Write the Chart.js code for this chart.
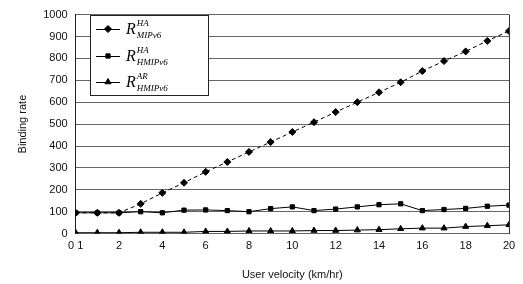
<!DOCTYPE html>
<html>
<head>
<meta charset="utf-8">
<script src="https://cdn.jsdelivr.net/npm/chart.js@4/dist/chart.umd.min.js"></script>
<style>
    html, body { margin: 0; padding: 0; background: #fff; }
    #wrap { width: 523px; height: 284px; }
</style>
</head>
<body>
<div id="wrap"><canvas id="c"></canvas></div>
<script>
// velocities (km/hr)
const velocities = [0, 1, 2, 3, 4, 5, 6, 7, 8, 9, 10, 11, 12, 13, 14, 15, 16, 17, 18, 19, 20];

// binding rates
const rateHaMipv6 = [95, 95, 95, 136, 186, 232, 282, 327, 373, 418, 464, 509, 555, 600, 645, 691, 742, 788, 832, 880, 925];
const rateHaHmipv6 = [95, 95, 95, 100, 95, 107, 108, 105, 100, 114, 122, 105, 112, 122, 132, 136, 105, 110, 115, 125, 130];
const rateArHmipv6 = [4, 4, 4, 6, 6, 6, 10, 10, 12, 12, 12, 14, 14, 16, 18, 22, 25, 25, 32, 36, 40];

const xTicks = [0, 2, 4, 6, 8, 10, 12, 14, 16, 18, 20];

// legend labels: base letter, superscript, subscript
const legendLabels = [
    ["R", "HA", "MIPv6"],
    ["R", "HA", "HMIPv6"],
    ["R", "AR", "HMIPv6"]
];

function pts(arr) {
    return velocities.map((v, i) => ({ x: v, y: arr[i] }));
}

// custom legend box drawn over the plot
const mathLegend = {
    id: "mathLegend",
    afterDraw(chart) {
        const ctx = chart.ctx;
        const bx = 90, by = 15, bw = 118, bh = 80;
        ctx.save();
        ctx.fillStyle = "#fff";
        ctx.fillRect(bx, by, bw, bh);
        ctx.strokeStyle = "#222";
        ctx.lineWidth = 1;
        ctx.strokeRect(bx + 0.5, by + 0.5, bw, bh);

        const rows = [29, 56, 82];
        chart.data.datasets.forEach((ds, i) => {
            const y = rows[i];
            ctx.strokeStyle = "#000";
            ctx.fillStyle = "#000";
            ctx.lineWidth = 1;
            ctx.setLineDash([]);
            ctx.beginPath();
            ctx.moveTo(96, y + 0.5);
            ctx.lineTo(120, y + 0.5);
            ctx.stroke();
            Chart.helpers.drawPoint(ctx, {
                pointStyle: ds.pointStyle,
                radius: ds.pointRadius,
                borderWidth: 1
            }, 108, y);

            const [base, sup, sub] = legendLabels[i];
            ctx.fillStyle = "#000";
            ctx.textBaseline = "alphabetic";
            ctx.font = "italic 16px 'Liberation Serif', serif";
            ctx.fillText(base, 126, y + 5);
            const w = ctx.measureText(base).width;
            ctx.font = "italic 9px 'Liberation Serif', serif";
            ctx.fillText(sup, 126 + w + 1, y - 3);
            ctx.fillText(sub, 126 + w + 1, y + 9);
        });
        ctx.restore();
    }
};

new Chart(document.getElementById("c"), {
    type: "line",
    data: {
        datasets: [
            {
                label: "R HA MIPv6",
                data: pts(rateHaMipv6),
                borderColor: "#000",
                backgroundColor: "#000",
                borderWidth: 1,
                borderDash: [4, 3],
                pointStyle: "rectRot",
                pointRadius: 3.5,
                pointBorderWidth: 1
            },
            {
                label: "R HA HMIPv6",
                data: pts(rateHaHmipv6),
                borderColor: "#000",
                backgroundColor: "#000",
                borderWidth: 1,
                pointStyle: "rect",
                pointRadius: 3,
                pointBorderWidth: 1
            },
            {
                label: "R AR HMIPv6",
                data: pts(rateArHmipv6),
                borderColor: "#000",
                backgroundColor: "#000",
                borderWidth: 1,
                pointStyle: "triangle",
                pointRadius: 3.5,
                pointBorderWidth: 1
            }
        ]
    },
    options: {
        responsive: true,
        maintainAspectRatio: false,
        animation: false,
        layout: { padding: { top: 6, right: 14, left: 12, bottom: 0 } },
        plugins: {
            legend: { display: false },
            tooltip: { enabled: false }
        },
        scales: {
            x: {
                type: "linear",
                min: 0,
                max: 20,
                afterBuildTicks: axis => {
                    axis.ticks = xTicks.map(v => ({ value: v }));
                },
                ticks: {
                    color: "#111",
                    font: { family: "Arial, 'Liberation Sans'", size: 11 },
                    padding: 6,
                    maxRotation: 0,
                    callback: v => (v === 0 ? "0 1" : String(v))
                },
                grid: {
                    drawTicks: false,
                    color: c => (c.tick && c.tick.value === 20 ? "#333" : "transparent")
                },
                border: { display: false },
                title: {
                    display: true,
                    text: "User velocity (km/hr)",
                    color: "#111",
                    font: { family: "Arial, 'Liberation Sans'", size: 11 },
                    padding: { top: 10, bottom: 2 }
                }
            },
            y: {
                min: 0,
                max: 1000,
                ticks: {
                    stepSize: 100,
                    color: "#111",
                    font: { family: "Arial, 'Liberation Sans'", size: 11 },
                    padding: 8,
                    callback: v => String(v)
                },
                grid: {
                    drawTicks: false,
                    color: "#666",
                    lineWidth: 1
                },
                border: { display: true, color: "#222", width: 1 },
                title: {
                    display: true,
                    text: "Binding rate",
                    color: "#111",
                    font: { family: "Arial, 'Liberation Sans'", size: 11 },
                    padding: { bottom: 6 }
                }
            }
        }
    },
    plugins: [mathLegend]
});
</script>
</body>
</html>
